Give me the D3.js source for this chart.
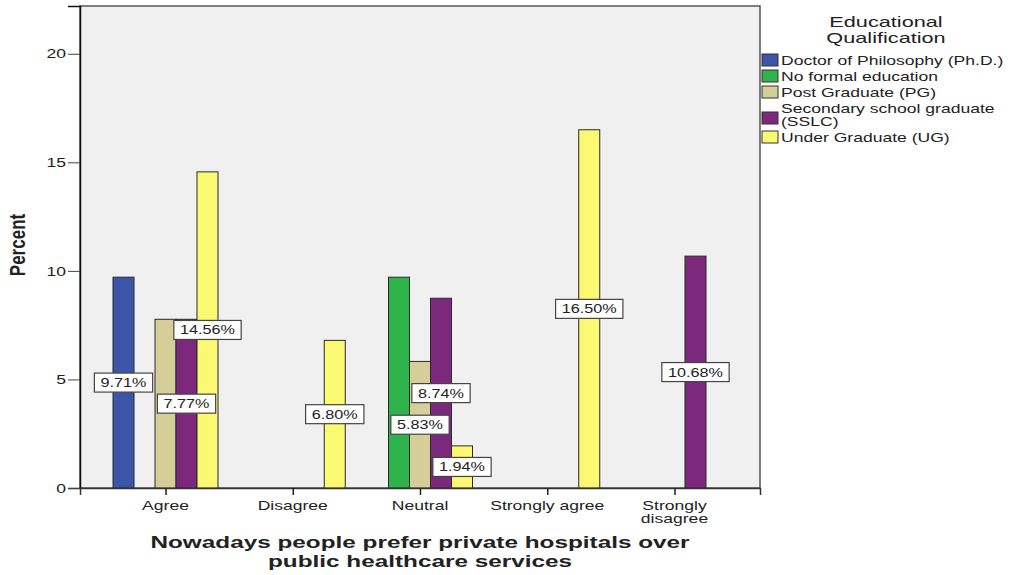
<!DOCTYPE html>
<html><head><meta charset="utf-8">
<script src="https://cdn.jsdelivr.net/npm/d3@7"></script>
<style>
body{margin:0;background:#fff;}
text{font-family:"Liberation Sans",Arial,sans-serif;fill:#222;}
</style></head>
<body><svg id="c" width="1011" height="575"></svg>
<script>
// ---- data ----
const categories = ["Agree","Disagree","Neutral","Strongly agree","Strongly disagree"];
const categoryLines = [["Agree"],["Disagree"],["Neutral"],["Strongly agree"],["Strongly","disagree"]];
const seriesNames = ["Doctor of Philosophy (Ph.D.)","No formal education","Post Graduate (PG)","Secondary school graduate (SSLC)","Under Graduate (UG)"];
const legendLines = [["Doctor of Philosophy (Ph.D.)"],["No formal education"],["Post Graduate (PG)"],["Secondary school graduate","(SSLC)"],["Under Graduate (UG)"]];
const phdValues      = [9.71, null, null, null, null];
const noFormalValues = [null, null, 9.71, null, null];
const pgValues       = [7.77, null, 5.83, null, null];
const sslcValues     = [7.77, null, 8.74, null, 10.68];
const ugValues       = [14.56, 6.80, 1.94, 16.50, null];
const seriesValues = [phdValues, noFormalValues, pgValues, sslcValues, ugValues];
const hiddenLabels = [["Post Graduate (PG)","Agree"],["No formal education","Neutral"]];
const yTicks = [0,5,10,15,20];
const colors = ["#3b56a9","#2fb44b","#d5ce98","#7c297d","#fbf872"];
const legendTitle = ["Educational","Qualification"];
const yTitle = "Percent";
const xTitle = ["Nowadays people prefer private hospitals over","public healthcare services"];

// ---- layout ----
const SX = 1.35;
const L = 80, R = 760, T = 6, B = 488;
const svg = d3.select("#c");

const x = d3.scalePoint().domain(categories).range([L, R]).padding(0.672);
const xs = d3.scaleBand().domain(seriesNames).range([-52.5, 52.5]);
const y = d3.scaleLinear().domain([0, 22.2]).range([B, T]);

function stext(g, px, py, str, size, weight, anchor, sx){
  return g.append("text")
    .attr("transform", `translate(${px},${py}) scale(${sx || SX},1)`)
    .attr("text-anchor", anchor || "middle")
    .style("font-size", size + "px")
    .style("font-weight", weight || "normal")
    .text(str);
}

// plot background
svg.append("rect").attr("x", L).attr("y", T).attr("width", R - L).attr("height", B - T)
  .attr("fill", "#f0f0f0").attr("stroke", "#555").attr("stroke-width", 1.5);

// bars
const rows = [];
seriesValues.forEach((vals, si) => vals.forEach((v, ci) => {
  if (v != null) rows.push({s: seriesNames[si], si, c: categories[ci], v});
}));
svg.append("g").selectAll("rect").data(rows).join("rect")
  .attr("x", d => x(d.c) + xs(d.s))
  .attr("y", d => y(d.v))
  .attr("width", xs.bandwidth())
  .attr("height", d => y(0) - y(d.v))
  .attr("fill", d => colors[d.si])
  .attr("stroke", "#2a2a2a").attr("stroke-width", 1);

// y axis
const ya = svg.append("g").attr("transform", `translate(${L},0)`)
  .call(d3.axisLeft(y).tickValues(yTicks).tickSize(12).tickPadding(2));
ya.select(".domain").attr("stroke", "#111").attr("stroke-width", 1.5);
ya.selectAll(".tick line").attr("stroke", "#444");
ya.selectAll(".tick text").each(function(){
  const t = d3.select(this); const xx = +t.attr("x");
  t.attr("x", 0).attr("transform", `translate(${xx},0) scale(${SX},1)`)
   .style("font-size", "13px").style("font-family", "Liberation Sans, Arial, sans-serif").attr("fill", "#333");
});

// x axis
const xa = svg.append("g").attr("transform", `translate(0,${B})`)
  .call(d3.axisBottom(x).tickSize(7).tickFormat(""));
xa.select(".domain").attr("stroke", "#333").attr("stroke-width", 1.5);
xa.selectAll(".tick line").attr("stroke", "#222").attr("stroke-width", 1.5);
categories.forEach((c, i) => {
  categoryLines[i].forEach((ln, j) => stext(svg, x(c), 510 + j * 13, ln, 13).attr("fill", "#333"));
});

// data labels
const hidden = new Set(hiddenLabels.map(d => d[0] + "|" + d[1]));
const lg = svg.append("g");
rows.filter(d => !hidden.has(d.s + "|" + d.c)).forEach(d => {
  const cx = x(d.c) + xs(d.s) + xs.bandwidth() / 2;
  const cy = y(d.v / 2);
  const label = d.v.toFixed(2) + "%";
  const g = lg.append("g");
  const t = stext(g, cx, cy + 4.5, label, 12).attr("fill", "#222");
  const w = t.node().getBBox().width * SX + 12;
  g.insert("rect", "text").attr("x", cx - w / 2).attr("y", cy - 9.5).attr("width", w).attr("height", 19)
    .attr("fill", "#fff").attr("stroke", "#444").attr("stroke-width", 1.2);
});

// axis titles
svg.append("text").attr("transform", `translate(25,245) scale(${SX},1) rotate(-90)`)
  .attr("text-anchor", "middle").style("font-size", "17px").style("font-weight", "bold").text(yTitle);
xTitle.forEach((ln, j) => stext(svg, 420, 548 + j * 18.5, ln, 16, "bold", "middle", 1.52).attr("fill", "#111"));

// legend
legendTitle.forEach((ln, j) => stext(svg, 886, 27 + j * 16, ln, 14, "normal", "middle", 1.55).attr("fill", "#333"));
let ly = 54;
legendLines.forEach((lines, i) => {
  const h = lines.length > 1 ? 26 : 12;
  const sh = 12;
  const sy = ly + (h - sh) / 2 + (lines.length > 1 ? 3 : 0);
  svg.append("rect").attr("x", 762).attr("y", sy).attr("width", 16).attr("height", sh)
    .attr("fill", colors[i]).attr("stroke", "#333").attr("stroke-width", 1);
  lines.forEach((ln, j) => stext(svg, 781, ly + 11 + j * 13, ln, 13, "normal", "start").attr("fill", "#222"));
  ly += lines.length > 1 ? 29 : 16;
});
</script></body></html>
